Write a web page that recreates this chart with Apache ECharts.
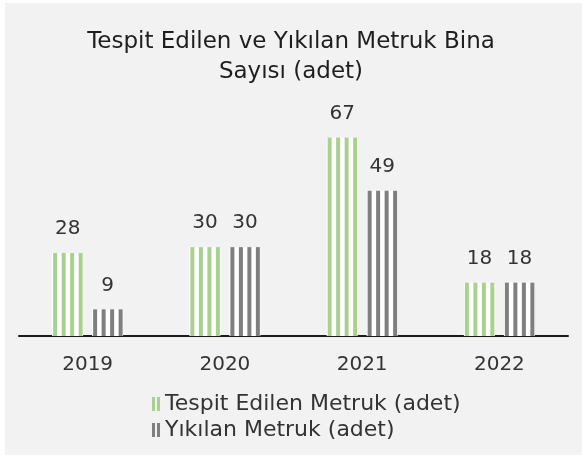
<!DOCTYPE html>
<html>
<head>
<meta charset="utf-8">
<script src="https://cdn.jsdelivr.net/npm/echarts@6/dist/echarts.min.js"></script>
<style>
html,body{margin:0;padding:0;background:#fff;}
#c{width:582px;height:457px;}
</style>
</head>
<body>
<div id="c"></div>
<script>
const titleText = 'Tespit Edilen ve Yıkılan Metruk Bina\nSayısı (adet)';
const categories = ['2019', '2020', '2021', '2022'];
const seriesNames = ['Tespit Edilen Metruk (adet)', 'Yıkılan Metruk (adet)'];
const tespitValues = [28, 30, 67, 18];
const yikilanValues = [9, 30, 49, 18];

const GREEN = '#a9d18e';
const GRAY = '#7f7f7f';
const FONT = '"DejaVu Sans", "Noto Sans", sans-serif';

function makeRender(color, side) {
  return function (params, api) {
    const ci = api.value(0);
    const v = api.value(1);
    const base = api.coord([ci, 0]);
    const top = api.coord([ci, v]);
    const bw = 31;
    const gap = 4.5;
    const x0 = side < 0 ? base[0] - gap - bw : base[0] + gap;
    const h = base[1] - top[1];
    const children = [
      { type: 'rect', shape: { x: x0, y: top[1], width: bw, height: h }, style: { fill: '#ffffff' } }
    ];
    const offs = [1, 9.5, 18, 26.5];
    offs.forEach(function (o) {
      children.push({ type: 'rect', shape: { x: x0 + o, y: top[1], width: 4, height: h }, style: { fill: color } });
    });
    children.push({
      type: 'text',
      style: {
        text: String(v), x: x0 + bw / 2, y: top[1] - 14,
        align: 'center', verticalAlign: 'bottom',
        font: '20px ' + FONT, fill: '#333333'
      }
    });
    return { type: 'group', children: children };
  };
}

const chart = echarts.init(document.getElementById('c'), null, { renderer: 'canvas' });
chart.setOption({
  backgroundColor: '#ffffff',
  animation: false,
  graphic: [{
    type: 'rect', z: -10, silent: true,
    shape: { x: 5, y: 3, width: 577, height: 452 },
    style: { fill: '#f2f2f2' }
  }],
  title: {
    text: titleText,
    left: 'center',
    top: 22,
    textStyle: { fontFamily: FONT, fontSize: 23, fontWeight: 'normal', color: '#1e1e1e', lineHeight: 30 }
  },
  legend: {
    orient: 'vertical',
    left: 152,
    top: 393,
    padding: 0,
    itemWidth: 8,
    itemHeight: 14,
    itemGap: 4,
    textStyle: { fontFamily: FONT, fontSize: 22, color: '#333333' },
    data: [
      { name: seriesNames[0], icon: 'path://M0,0h3v14h-3z M5,0h3v14h-3z' },
      { name: seriesNames[1], icon: 'path://M0,0h3v14h-3z M5,0h3v14h-3z' }
    ]
  },
  grid: { left: 19, right: 14, top: 99, bottom: 121 },
  xAxis: {
    type: 'category',
    data: categories,
    axisLine: { lineStyle: { color: '#1a1a1a', width: 2 } },
    axisTick: { show: false },
    axisLabel: { fontFamily: FONT, fontSize: 20, color: '#333333', margin: 19 }
  },
  yAxis: { type: 'value', min: 0, max: 80, show: false, splitLine: { show: false } },
  series: [
    {
      name: seriesNames[0], type: 'custom', itemStyle: { color: GREEN },
      encode: { x: 0, y: 1 },
      data: tespitValues.map(function (v, i) { return [i, v]; }),
      renderItem: makeRender(GREEN, -1)
    },
    {
      name: seriesNames[1], type: 'custom', itemStyle: { color: GRAY },
      encode: { x: 0, y: 1 },
      data: yikilanValues.map(function (v, i) { return [i, v]; }),
      renderItem: makeRender(GRAY, 1)
    }
  ]
});
</script>
</body>
</html>
